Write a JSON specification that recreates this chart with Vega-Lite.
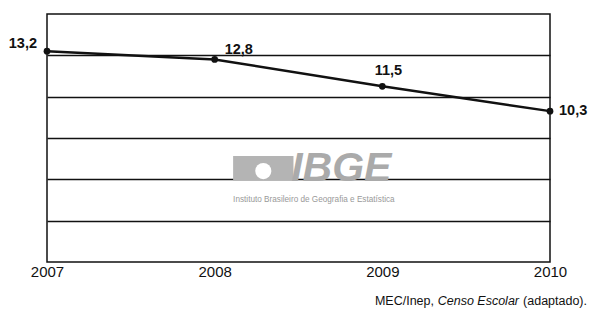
{
  "$schema": "https://vega.github.io/schema/vega-lite/v6.json",
  "width": 503,
  "height": 248,
  "autosize": {"type": "none"},
  "padding": {"left": 47, "top": 14, "right": 39, "bottom": 47},
  "background": "white",
  "config": {
    "font": "Liberation Sans",
    "view": {"stroke": "#111", "strokeWidth": 1.5},
    "locale": {"number": {"decimal": ",", "thousands": ".", "grouping": [3], "currency": ["R$ ", ""]}}
  },
  "datasets": {
    "serie": [
      {"ano": 2007, "taxa": 13.2},
      {"ano": 2008, "taxa": 12.8},
      {"ano": 2009, "taxa": 11.5},
      {"ano": 2010, "taxa": 10.3}
    ]
  },
  "data": {"name": "serie"},
  "layer": [
    {
      "data": {"values": [{"t": "logo"}]},
      "mark": {"type": "rect", "color": "#b4b4b4"},
      "encoding": {
        "x": {"datum": 2008.11, "type": "quantitative", "scale": {"domain": [2007, 2010], "nice": false, "zero": false},
          "axis": {"title": null, "values": [2007, 2008, 2009, 2010], "format": "d", "grid": false, "ticks": false, "domain": false,
            "labelFlush": false, "labelFontSize": 15, "labelColor": "#111", "labelPadding": 2, "labelFont": "Liberation Sans"}},
        "x2": {"datum": 2008.47},
        "y": {"datum": 8.13, "type": "quantitative", "scale": {"domain": [3, 15], "nice": false, "zero": false},
          "axis": {"title": null, "values": [5, 7, 9, 11, 13], "grid": true, "gridColor": "#111", "gridWidth": 1.5, "gridOpacity": 1,
            "labels": false, "ticks": false, "domain": false}},
        "y2": {"datum": 6.93}
      }
    },
    {
      "data": {"values": [{"t": "logo"}]},
      "mark": {"type": "point", "shape": "circle", "filled": true, "color": "white", "opacity": 1, "size": 260},
      "encoding": {
        "x": {"datum": 2008.29, "type": "quantitative"},
        "y": {"datum": 7.4, "type": "quantitative"}
      }
    },
    {
      "data": {"values": [{"t": "IBGE"}]},
      "mark": {"type": "text", "font": "Liberation Sans", "fontWeight": "bold", "fontStyle": "italic", "fontSize": 41, "color": "#aaaaaa", "align": "left", "baseline": "alphabetic", "dx": -4, "dy": 1},
      "encoding": {
        "x": {"datum": 2008.48, "type": "quantitative"},
        "y": {"datum": 6.97, "type": "quantitative"},
        "text": {"field": "t", "type": "nominal"}
      }
    },
    {
      "data": {"values": [{"t": "Instituto Brasileiro de Geografia e Estatística"}]},
      "mark": {"type": "text", "fontSize": 8.2, "color": "#999999", "align": "left", "baseline": "middle", "dy": 20},
      "encoding": {
        "x": {"datum": 2008.11, "type": "quantitative"},
        "y": {"datum": 6.97, "type": "quantitative"},
        "text": {"field": "t", "type": "nominal"}
      }
    },
    {
      "mark": {"type": "line", "color": "#111", "strokeWidth": 2.5},
      "encoding": {"x": {"field": "ano", "type": "quantitative"}, "y": {"field": "taxa", "type": "quantitative"}}
    },
    {
      "mark": {"type": "point", "filled": true, "color": "#111", "opacity": 1, "size": 45},
      "encoding": {"x": {"field": "ano", "type": "quantitative"}, "y": {"field": "taxa", "type": "quantitative"}}
    },
    {
      "transform": [{"filter": "datum.ano == 2007"}],
      "mark": {"type": "text", "fontWeight": "bold", "fontSize": 14.5, "color": "#111", "align": "right", "baseline": "middle", "dx": -10, "dy": -7},
      "encoding": {"x": {"field": "ano", "type": "quantitative"}, "y": {"field": "taxa", "type": "quantitative"}, "text": {"field": "taxa", "type": "quantitative", "format": ".1f"}}
    },
    {
      "transform": [{"filter": "datum.ano == 2008"}],
      "mark": {"type": "text", "fontWeight": "bold", "fontSize": 14.5, "color": "#111", "align": "left", "baseline": "middle", "dx": 10, "dy": -9},
      "encoding": {"x": {"field": "ano", "type": "quantitative"}, "y": {"field": "taxa", "type": "quantitative"}, "text": {"field": "taxa", "type": "quantitative", "format": ".1f"}}
    },
    {
      "transform": [{"filter": "datum.ano == 2009"}],
      "mark": {"type": "text", "fontWeight": "bold", "fontSize": 14.5, "color": "#111", "align": "center", "baseline": "middle", "dx": 6, "dy": -15},
      "encoding": {"x": {"field": "ano", "type": "quantitative"}, "y": {"field": "taxa", "type": "quantitative"}, "text": {"field": "taxa", "type": "quantitative", "format": ".1f"}}
    },
    {
      "transform": [{"filter": "datum.ano == 2010"}],
      "mark": {"type": "text", "fontWeight": "bold", "fontSize": 14.5, "color": "#111", "align": "left", "baseline": "middle", "dx": 9, "dy": 0},
      "encoding": {"x": {"field": "ano", "type": "quantitative"}, "y": {"field": "taxa", "type": "quantitative"}, "text": {"field": "taxa", "type": "quantitative", "format": ".1f"}}
    },
    {
      "data": {"values": [{"t": "MEC/Inep,"}]},
      "mark": {"type": "text", "fontSize": 12.5, "color": "#111", "align": "right", "baseline": "alphabetic", "dx": -116, "dy": 43},
      "encoding": {"x": {"datum": 2010, "type": "quantitative"}, "y": {"datum": 3, "type": "quantitative"}, "text": {"field": "t", "type": "nominal"}}
    },
    {
      "data": {"values": [{"t": "Censo Escolar"}]},
      "mark": {"type": "text", "fontSize": 12.5, "fontStyle": "italic", "color": "#111", "align": "right", "baseline": "alphabetic", "dx": -31, "dy": 43},
      "encoding": {"x": {"datum": 2010, "type": "quantitative"}, "y": {"datum": 3, "type": "quantitative"}, "text": {"field": "t", "type": "nominal"}}
    },
    {
      "data": {"values": [{"t": "(adaptado)."}]},
      "mark": {"type": "text", "fontSize": 12.5, "color": "#111", "align": "right", "baseline": "alphabetic", "dx": 37, "dy": 43},
      "encoding": {"x": {"datum": 2010, "type": "quantitative"}, "y": {"datum": 3, "type": "quantitative"}, "text": {"field": "t", "type": "nominal"}}
    }
  ]
}
